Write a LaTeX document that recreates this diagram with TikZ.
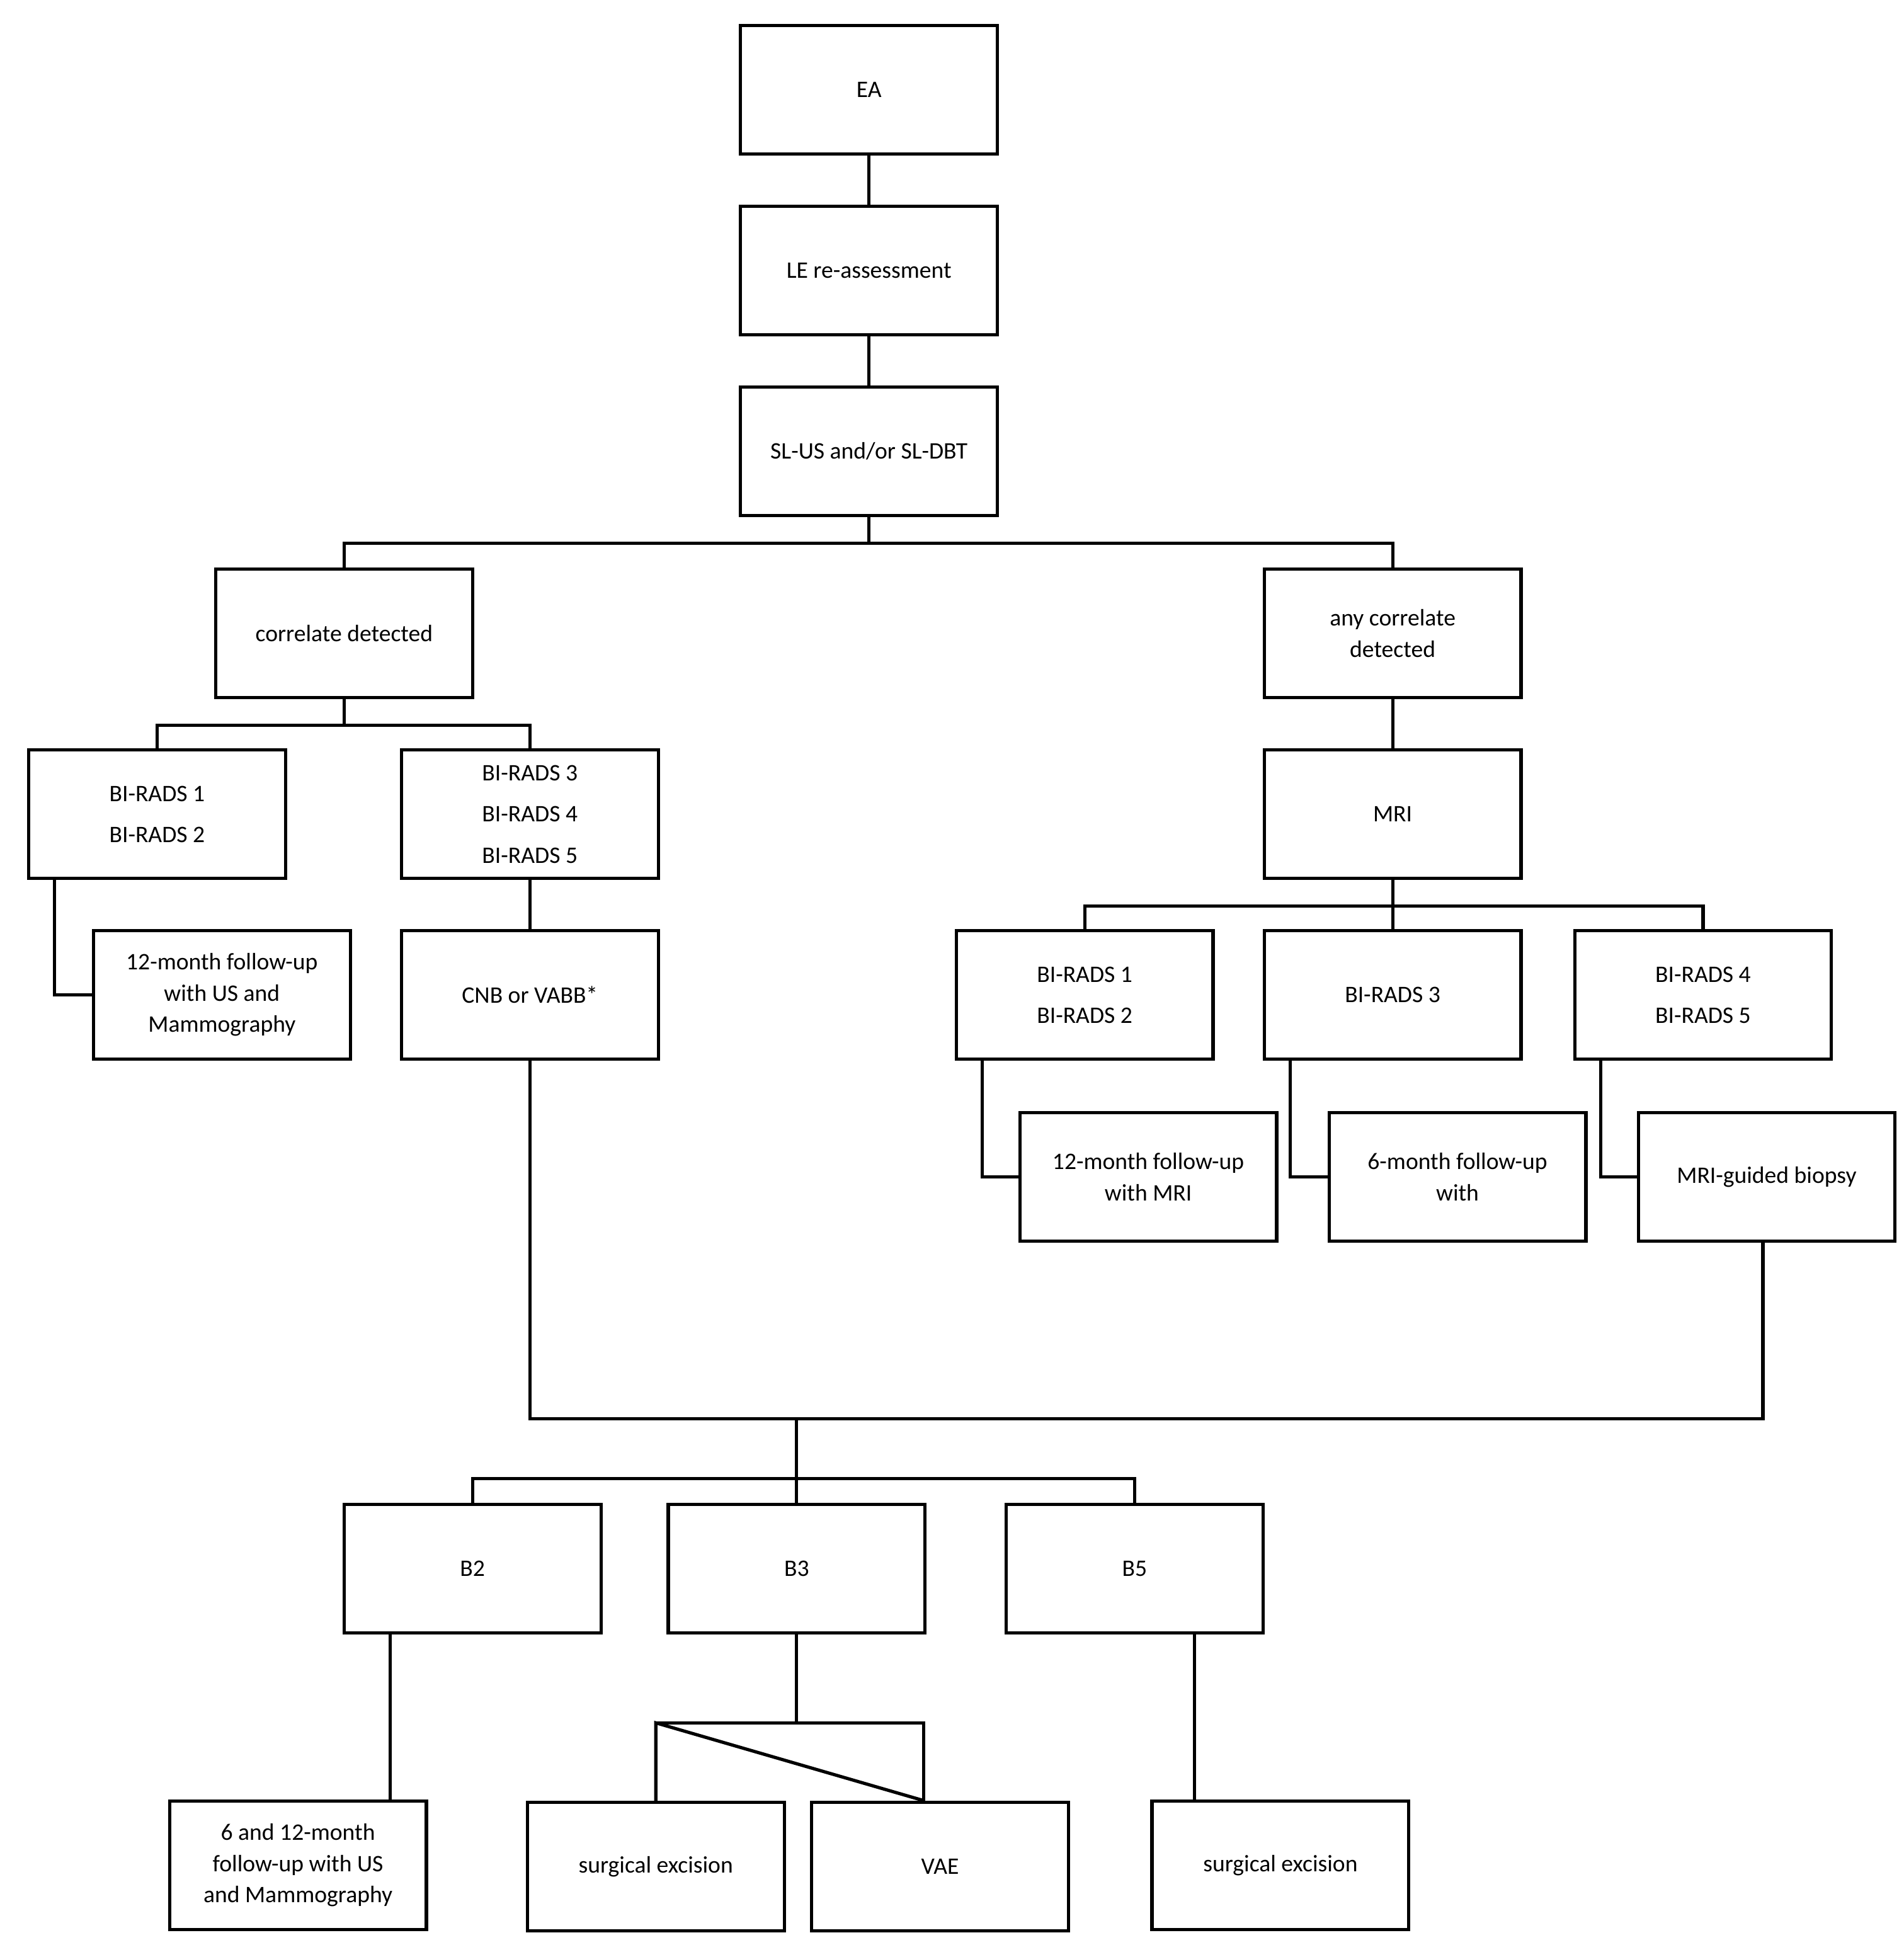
\documentclass[tikz,border=0pt]{standalone}
\usepackage{fontspec}
\setmainfont{Carlito}
\begin{document}
\begin{tikzpicture}[x=1pt,y=-1pt,
  box/.style={draw,line width=2.6pt,minimum width=206pt,minimum height=103pt,inner sep=2pt,align=center,font=\fontsize{19}{25}\selectfont},
  ln/.style={line width=2.6pt}]
\useasboundingbox (0,0) rectangle (1527,1560);
\node[box] (ea) at (697,72) {EA};
\node[box] (le) at (697,217) {LE re-assessment};
\node[box] (sl) at (697,362) {SL-US and/or SL-DBT};
\node[box] (cd) at (276,508) {correlate detected};
\node[box] (ac) at (1117,508) {any correlate\\detected};
\node[box] (bl12) at (126,653) {BI-RADS 1\\[8pt]BI-RADS 2};
\node[box] (b345) at (425,653) {BI-RADS 3\\[8pt]BI-RADS 4\\[8pt]BI-RADS 5};
\node[box] (fu12) at (178,798) {12-month follow-up\\with US and\\Mammography};
\node[box] (cnb) at (425,798) {CNB or VABB*};
\node[box] (mri) at (1117,653) {MRI};
\node[box] (br12) at (870,798) {BI-RADS 1\\[8pt]BI-RADS 2};
\node[box] (br3) at (1117,798) {BI-RADS 3};
\node[box] (br45) at (1366,798) {BI-RADS 4\\[8pt]BI-RADS 5};
\node[box] (fm) at (921,944) {12-month follow-up\\with MRI};
\node[box] (f6) at (1169,944) {6-month follow-up\\with};
\node[box] (mg) at (1417,944) {MRI-guided biopsy};
\node[box] (b2) at (379,1258) {B2};
\node[box] (b3) at (639,1258) {B3};
\node[box] (b5) at (910,1258) {B5};
\node[box] (f612) at (239,1496) {6 and 12-month\\follow-up with US\\and Mammography};
\node[box] (se1) at (526,1497) {surgical excision};
\node[box] (vae) at (754,1497) {VAE};
\node[box] (se2) at (1027,1496) {surgical excision};
\draw[ln] (ea) -- (le);
\draw[ln] (le) -- (sl);
\draw[ln] (sl.south) -- ++(0,21) coordinate (s1);
\draw[ln] (cd.north) -- (cd.north |- s1) -- (ac.north |- s1) -- (ac.north);
\draw[ln] (cd.south) -- ++(0,21) coordinate (c1);
\draw[ln] (bl12.north) -- (bl12.north |- c1) -- (b345.north |- c1) -- (b345.north);
\draw[ln] ([xshift=22pt]bl12.south west) |- (fu12.west);
\draw[ln] (b345) -- (cnb);
\draw[ln] (ac) -- (mri);
\draw[ln] (mri.south) -- ++(0,21) coordinate (m1);
\draw[ln] (br12.north) -- (br12.north |- m1) -- (br45.north |- m1) -- (br45.north);
\draw[ln] (br3.north) -- (br3.north |- m1);
\draw[ln] ([xshift=22pt]br12.south west) |- (fm.west);
\draw[ln] ([xshift=22pt]br3.south west) |- (f6.west);
\draw[ln] ([xshift=22pt]br45.south west) |- (mg.west);
\coordinate (j) at (639,1138);
\draw[ln] (cnb.south) -- (cnb.south |- j) -- ([xshift=-3pt]mg.south |- j) -- ([xshift=-3pt]mg.south);
\draw[ln] (j) -- (b3.north);
\coordinate (k) at (639,1186);
\draw[ln] (b2.north) -- (b2.north |- k) -- (b5.north |- k) -- (b5.north);
\draw[ln] ([xshift=-66pt]b2.south) -- ([xshift=-66pt]b2.south |- f612.north);
\draw[ln] (b3.south) -- ++(0,71) coordinate (b31);
\draw[ln] (se1.north) -- (se1.north |- b31) -- (vae.north -| 741,0) coordinate (v) ;
\draw[ln] (se1.north |- b31) -- (741,0 |- b31) -- (741,0 |- vae.north);
\draw[ln] ([xshift=48pt]b5.south) -- ([xshift=48pt]b5.south |- se2.north);
\end{tikzpicture}
\end{document}
